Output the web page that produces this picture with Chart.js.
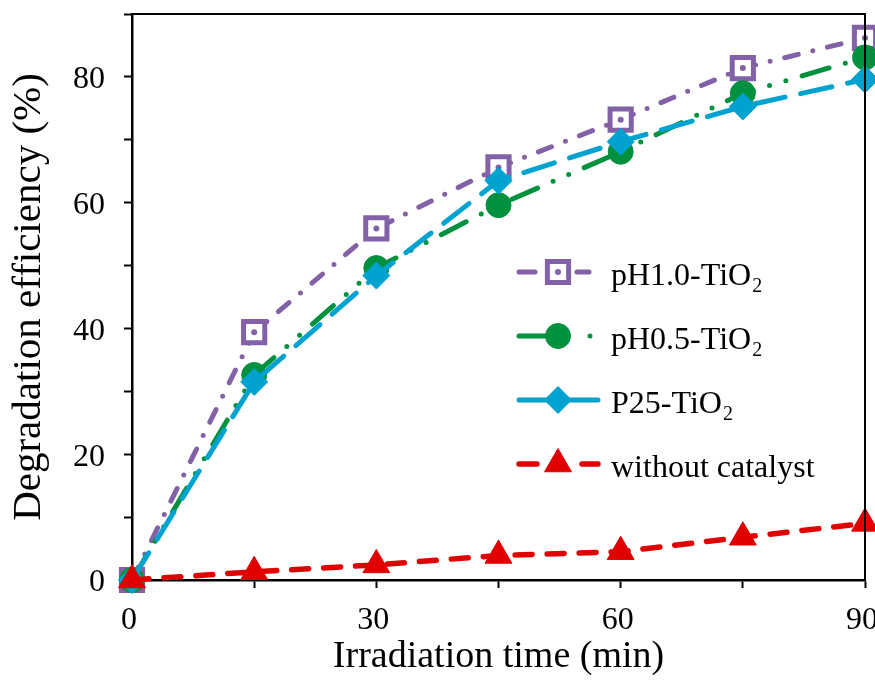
<!DOCTYPE html>
<html><head><meta charset="utf-8">
<script src="https://cdn.jsdelivr.net/npm/chart.js@4/dist/chart.umd.min.js"></script>
<style>html,body{margin:0;padding:0;background:#fff}canvas{display:block}</style>
</head><body>
<canvas id="c" width="875" height="680"></canvas>
<script>
const times = [0, 15, 30, 45, 60, 75, 90];
const seriesNames = ['pH1.0-TiO', 'pH0.5-TiO', 'P25-TiO', 'without catalyst'];
const seriesSubs = ['2', '2', '2', ''];
const pH10 = [0, 39.4, 55.9, 65.6, 73.2, 81.4, 86.2];
const pH05 = [0, 32.6, 49.6, 59.6, 68.1, 77.4, 83.1];
const p25 = [0, 31.5, 48.4, 63.5, 69.7, 75.3, 79.6];
const noCat = [0, 1.3, 2.4, 3.9, 4.5, 6.8, 9.0];
const xTickLabels = [0, 30, 60, 90];
const yTickLabels = [0, 20, 40, 60, 80];
const xTitle = 'Irradiation time (min)';
const yTitle = 'Degradation efficiency (%)';

const FONT = "'Liberation Serif', 'Times New Roman', serif";
Chart.defaults.font.family = FONT;
Chart.defaults.color = '#000';

const colors = ['#8361A6', '#00913F', '#00A2CF', '#E00000'];
const styles = ['rect', 'circle', 'rectRot', 'triangle'];
const radii = [15, 12.5, 13.5, 15.5];
const dashes = [[14, 15, 0, 15], [28, 17, 0, 17, 0, 17], [32, 16], [17, 15]];
const legendDashes = [[16, 42, 12, 100], [32, 39, 0, 100], [], [18, 45, 20, 100]];
const allSeries = [pH10, pH05, p25, noCat];
const orders = [3, 2, 1, 0];

const datasets = allSeries.map((s, i) => ({
  label: seriesNames[i] + seriesSubs[i],
  data: times.map((t, j) => ({x: t, y: s[j]})),
  borderColor: colors[i],
  backgroundColor: colors[i],
  borderWidth: i === 3 ? 5.5 : 5,
  borderDash: dashes[i],
  borderCapStyle: 'round',
  borderJoinStyle: 'round',
  pointStyle: styles[i],
  pointRadius: radii[i],
  pointHoverRadius: radii[i],
  pointBackgroundColor: i === 0 ? '#fff' : colors[i],
  pointBorderColor: colors[i],
  pointBorderWidth: i === 0 ? 5 : 1,
  tension: 0,
  fill: false,
  clip: false,
  order: orders[i]
}));

function drawMarker(ctx, i, x, y) {
  const r = radii[i];
  ctx.save();
  ctx.fillStyle = i === 0 ? '#fff' : colors[i];
  ctx.strokeStyle = colors[i];
  ctx.lineWidth = i === 0 ? 5 : 1;
  ctx.beginPath();
  if (styles[i] === 'rect') {
    const s = Math.SQRT1_2 * r;
    ctx.rect(x - s, y - s, 2 * s, 2 * s);
  } else if (styles[i] === 'circle') {
    ctx.arc(x, y, r, 0, Math.PI * 2);
  } else if (styles[i] === 'rectRot') {
    ctx.moveTo(x - r, y); ctx.lineTo(x, y - r); ctx.lineTo(x + r, y); ctx.lineTo(x, y + r); ctx.closePath();
  } else {
    for (let k = 0; k < 3; k++) {
      const a = k * 2 * Math.PI / 3;
      const px = x + Math.sin(a) * r, py = y - Math.cos(a) * r;
      if (k === 0) ctx.moveTo(px, py); else ctx.lineTo(px, py);
    }
    ctx.closePath();
  }
  ctx.fill();
  ctx.stroke();
  if (i === 0) {
    ctx.fillStyle = colors[0];
    ctx.beginPath(); ctx.arc(x, y, 3, 0, Math.PI * 2); ctx.fill();
  }
  ctx.restore();
}

const decor = {
  id: 'decor',
  afterDatasetDraw(chart, args) {
    if (args.index !== 0) return;
    const ctx = chart.ctx;
    ctx.save();
    ctx.fillStyle = colors[0];
    args.meta.data.forEach(p => {
      ctx.beginPath(); ctx.arc(p.x, p.y, 3, 0, Math.PI * 2); ctx.fill();
    });
    ctx.restore();
  },
  afterDatasetsDraw(chart) {
    const {ctx, chartArea: a} = chart;
    ctx.save();
    ctx.strokeStyle = '#000';
    ctx.lineWidth = 2;
    ctx.beginPath();
    ctx.moveTo(a.left - 1, a.top);
    ctx.lineTo(a.right, a.top);
    ctx.lineTo(a.right, a.bottom);
    ctx.stroke();
    ctx.restore();
  },
  afterDraw(chart) {
    const ctx = chart.ctx;
    const x0 = 519, x1 = 598, xm = 558, tx = 611;
    const base0 = 285, step = 64;
    for (let i = 0; i < 4; i++) {
      const base = base0 + step * i;
      const ly = base - 13;
      ctx.save();
      ctx.strokeStyle = colors[i];
      ctx.lineWidth = datasets[i].borderWidth;
      ctx.lineCap = 'round';
      ctx.setLineDash(legendDashes[i]);
      ctx.lineDashOffset = 0;
      ctx.beginPath(); ctx.moveTo(x0, ly); ctx.lineTo(x1, ly); ctx.stroke();
      ctx.restore();
      drawMarker(ctx, i, xm, ly);
      ctx.save();
      ctx.fillStyle = '#000';
      ctx.textBaseline = 'alphabetic';
      ctx.textAlign = 'left';
      ctx.font = '32px ' + FONT;
      ctx.fillText(seriesNames[i], tx, base);
      if (seriesSubs[i]) {
        const w = ctx.measureText(seriesNames[i]).width;
        ctx.font = '20px ' + FONT;
        ctx.fillText(seriesSubs[i], tx + w + 1, base + 7);
      }
      ctx.restore();
    }
  }
};

function noPad(s) {
  s.paddingTop = 0; s.paddingBottom = 0; s.paddingLeft = 0; s.paddingRight = 0;
}

new Chart(document.getElementById('c'), {
  type: 'line',
  data: {datasets},
  options: {
    responsive: false,
    animation: false,
    events: [],
    layout: {padding: {top: 14, right: 10, left: 0, bottom: 0}, autoPadding: false},
    plugins: {legend: {display: false}, tooltip: {enabled: false}},
    scales: {
      x: {
        type: 'linear', min: 0, max: 90,
        afterFit: s => { s.height = 100; noPad(s); },
        ticks: {
          stepSize: 15, autoSkip: false, maxRotation: 0, padding: 13, labelOffset: -3,
          font: {size: 32},
          callback: v => xTickLabels.includes(v) ? String(v) : ''
        },
        grid: {display: true, drawOnChartArea: false, drawTicks: true, tickLength: 8, tickColor: '#000', tickWidth: 2},
        border: {display: true, color: '#000', width: 2.5},
        title: {display: true, text: xTitle, font: {size: 38}, padding: {top: 0, bottom: 0}}
      },
      y: {
        type: 'linear', min: 0, max: 90,
        afterFit: s => { s.width = 132; noPad(s); },
        ticks: {
          stepSize: 10, autoSkip: false, padding: 19, labelOffset: 3,
          font: {size: 32},
          callback: v => yTickLabels.includes(v) ? String(v) : ''
        },
        grid: {display: true, drawOnChartArea: false, drawTicks: true, tickLength: 8, tickColor: '#000', tickWidth: 2},
        border: {display: true, color: '#000', width: 2.5},
        title: {display: true, text: yTitle, font: {size: 41}, padding: {top: 5, bottom: 0}}
      }
    }
  },
  plugins: [decor]
});
</script>
</body></html>
